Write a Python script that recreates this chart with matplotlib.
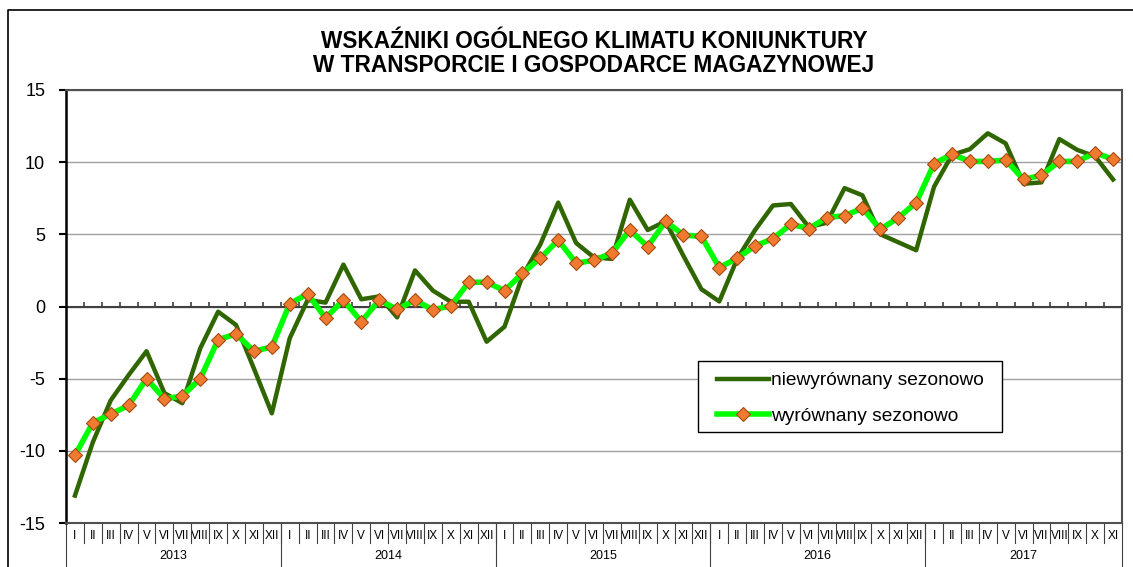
import numpy as np
import matplotlib
matplotlib.use("Agg")
import matplotlib.pyplot as plt
from matplotlib.patches import Rectangle

plt.rcParams['font.family'] = ['Liberation Sans', 'DejaVu Sans']
plt.rcParams['axes.unicode_minus'] = False

# miesiące I 2013 - XI 2017
months = ['I', 'II', 'III', 'IV', 'V', 'VI', 'VII', 'VIII', 'IX', 'X', 'XI', 'XII']
years = ['2013', '2014', '2015', '2016', '2017']
month_labels = months * 4 + months[:11]

# niewyrównany sezonowo
raw = [-13.1, -9.4, -6.5, -4.75, -3.1, -6.0, -6.7, -2.9, -0.36, -1.28, -4.3, -7.4,
       -2.2, 0.45, 0.27, 2.9, 0.5, 0.7, -0.75, 2.5, 1.1, 0.33, 0.33, -2.44,
       -1.4, 2.1, 4.3, 7.2, 4.4, 3.4, 3.3, 7.4, 5.3, 5.9, 3.5, 1.2,
       0.35, 3.3, 5.3, 7.0, 7.1, 5.5, 5.8, 8.2, 7.7, 5.0, 4.45, 3.9,
       8.3, 10.5, 10.9, 12.0, 11.3, 8.5, 8.6, 11.6, 10.85, 10.4, 8.8]

# wyrównany sezonowo
sa = [-10.3, -8.05, -7.45, -6.85, -5.0, -6.4, -6.2, -5.0, -2.3, -1.9, -3.1, -2.8,
      0.2, 0.87, -0.8, 0.45, -1.05, 0.45, -0.2, 0.45, -0.24, 0.05, 1.68, 1.68,
      1.1, 2.3, 3.35, 4.6, 3.0, 3.2, 3.7, 5.3, 4.15, 5.9, 4.95, 4.85,
      2.7, 3.35, 4.2, 4.7, 5.7, 5.4, 6.15, 6.3, 6.8, 5.35, 6.15, 7.2,
      9.9, 10.55, 10.05, 10.05, 10.15, 8.8, 9.1, 10.05, 10.05, 10.65, 10.2]

x = np.arange(len(raw))

fig = plt.figure(figsize=(11.33, 5.67), dpi=100)
ax = fig.add_axes([66 / 1133, 1 - 523 / 567, 1056 / 1133, 433 / 567])

# ramka całego wykresu
fig.add_artist(plt.Line2D([8 / 1133, 8 / 1133, 1.0], [0.0, 1 - 10 / 567, 1 - 10 / 567],
                          transform=fig.transFigure, color='black', lw=1.2))

ax.set_xlim(-0.5, len(raw) - 0.5)
ax.set_ylim(-15, 15)
ax.set_yticks([-15, -10, -5, 0, 5, 10, 15])
ax.yaxis.grid(True, color='#a0a0a0', lw=1)
ax.set_axisbelow(True)

for s in ['top', 'right', 'bottom']:
    ax.spines[s].set_color('#505050')
    ax.spines[s].set_linewidth(1.5)
ax.spines['left'].set_color('black')
ax.spines['left'].set_linewidth(1.8)
ax.tick_params(axis='y', length=5, width=1.5, labelsize=13, pad=10)

# oś zero z kreskami
ax.axhline(0, color='#404040', lw=1.5, zorder=2)
bounds = np.arange(len(raw)) + 0.5
ax.vlines(bounds, 0, 0.3, color='#404040', lw=1.2, zorder=2)

ax.plot(x, raw, color='#2f6600', lw=3.2, zorder=3, label='niewyrównany sezonowo')
ax.plot(x, sa, color='#00ff00', lw=4, zorder=4, marker='D', markersize=7,
        markerfacecolor='#f07a30', markeredgecolor='#a34a10', markeredgewidth=0.8,
        label='wyrównany sezonowo')

# etykiety miesięcy i lat
ax.set_xticks(x)
ax.set_xticklabels(month_labels, fontsize=8.5)
ax.tick_params(axis='x', length=0, pad=5)
tr = ax.get_xaxis_transform()
for b in bounds[:-1]:
    ax.plot([b, b], [0, -0.046], transform=tr, color='#404040', lw=0.8, clip_on=False)
ax.plot([-0.5, -0.5], [0, -0.11], transform=tr, color='#404040', lw=0.8, clip_on=False)
for i, yr in enumerate(years):
    start = i * 12 - 0.5
    end = min(start + 12, len(raw) - 0.5)
    ax.text((start + end) / 2, -0.077, yr, transform=tr, ha='center', va='center',
            fontsize=9)
    if i > 0:
        ax.plot([start, start], [0, -0.11], transform=tr, color='#404040', lw=0.8,
                clip_on=False)
ax.plot([len(raw) - 0.5] * 2, [0, -0.11], transform=tr, color='#404040', lw=0.8,
        clip_on=False)

fig.text(594 / 1133, 1 - 41 / 567, 'WSKAŹNIKI OGÓLNEGO KLIMATU KONIUNKTURY',
         ha='center', va='center', fontsize=16.3, fontweight='bold')
fig.text(594 / 1133, 1 - 66 / 567, 'W TRANSPORCIE I GOSPODARCE MAGAZYNOWEJ',
         ha='center', va='center', fontsize=16.3, fontweight='bold')

# legenda z osobną ramką
ax.add_patch(Rectangle((0.5985, 0.210), 0.2879, 0.164, transform=ax.transAxes,
                       facecolor='white', edgecolor='black', lw=1, zorder=5))
leg = ax.legend(loc='upper left', bbox_to_anchor=(0.6165, 0.349), fontsize=13.8,
                frameon=False, handlelength=2.7, borderpad=0, labelspacing=0.95,
                handletextpad=0.12, borderaxespad=0)
leg.set_zorder(6)

plt.savefig('out.png', dpi=100)
